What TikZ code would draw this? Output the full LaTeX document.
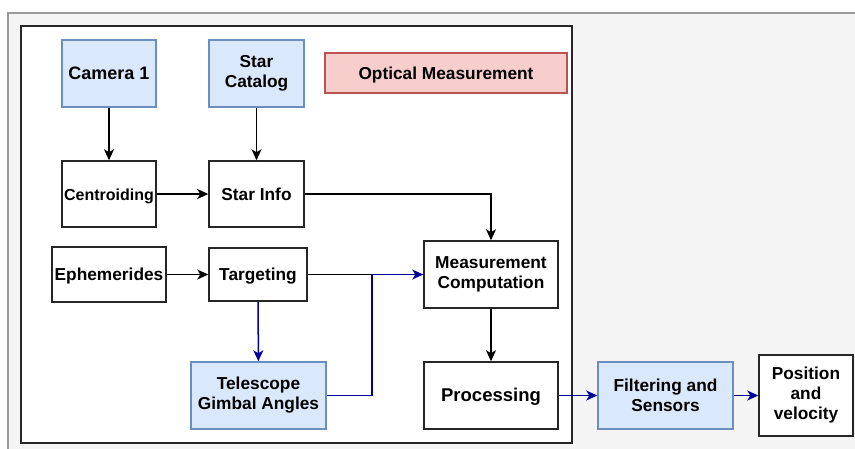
\documentclass[tikz,border=0pt]{standalone}
\usepackage{fontspec}
\setmainfont{Liberation Sans}
\usetikzlibrary{arrows.meta}
\definecolor{bluefill}{HTML}{DAE8FC}
\definecolor{bluedraw}{HTML}{6C8EBF}
\definecolor{redfill}{HTML}{F8CECC}
\definecolor{reddraw}{HTML}{B85450}
\definecolor{flowblue}{HTML}{000099}
\definecolor{panelgray}{HTML}{F4F4F4}
\definecolor{panelline}{HTML}{9A9A9A}

\begin{document}
\begin{tikzpicture}[x=1pt,y=-1pt,
  box/.style={draw=black!85, line width=1.5pt, fill=white, align=center,
    inner sep=0pt, font=\bfseries\fontsize{17.3}{20}\selectfont},
  srcbox/.style={box, draw=bluedraw, fill=bluefill},
  oneline/.style={text height=15.6pt, text depth=3.6pt},
  flow/.style={draw=black, line width=1.5pt,
    -{Stealth[length=11pt,width=10pt,inset=3pt]}},
  bflow/.style={flow, draw=flowblue},
  plain/.style={draw=black, line width=1.5pt}
]
\useasboundingbox (0,0) rectangle (855,448);

% background panel and the optical measurement group
\draw[panelline, fill=panelgray, line width=1.5pt] (8,13) rectangle (880,470);
\draw[black!85, fill=white, line width=1.5pt] (21,26) rectangle (572,443);

% nodes
\node[srcbox, oneline, minimum width=94pt, minimum height=67pt, font=\bfseries\fontsize{18}{20}\selectfont] (cam) at (109,73.5) {Camera 1};
\node[srcbox, minimum width=95pt, minimum height=67pt] (cat) at (256.5,73.5) {Star\\Catalog};
\node[box, oneline, draw=reddraw, fill=redfill, minimum width=242pt, minimum height=40pt] (opt) at (446,73) {Optical Measurement};
\node[box, oneline, minimum width=94pt, minimum height=66pt, font=\bfseries\fontsize{16}{20}\selectfont] (cen) at (109,194) {Centroiding};
\node[box, oneline, minimum width=95pt, minimum height=66pt] (info) at (256.5,194) {Star Info};
\node[box, oneline, minimum width=114pt, minimum height=55pt] (eph) at (109,274.5) {Ephemerides};
\node[box, oneline, minimum width=98pt, minimum height=53pt] (tgt) at (258,274.5) {Targeting};
\node[srcbox, minimum width=135pt, minimum height=67pt] (gim) at (258.5,395.5) {Telescope\\Gimbal Angles};
\node[box, minimum width=134pt, minimum height=67pt] (mc) at (491,274.5) {Measurement\\Computation};
\node[box, oneline, minimum width=134pt, minimum height=67pt, font=\bfseries\fontsize{18.5}{20}\selectfont] (proc) at (491,395.5) {Processing};
\node[srcbox, minimum width=135pt, minimum height=67pt] (filt) at (665.5,395.5) {Filtering and\\Sensors};
\node[box, minimum width=94pt, minimum height=81pt] (pos) at (806,395.5) {Position\\and\\velocity};

% connectors
\draw[flow] (cam) -- (cen);
\draw[flow] (cat) -- (info);
\draw[flow] (cen) -- (info);
\draw[flow] (info.east) -| (mc.north);
\draw[flow] (eph) -- (tgt);
\draw[plain] (tgt.east) -- (mc.west);
\draw[bflow] (tgt) -- (gim);
\draw[bflow] (gim.east) -- ++(45,0) |- (mc.west);
\draw[flow] (mc) -- (proc);
\draw[bflow] (proc) -- (filt);
\draw[bflow] (filt) -- (pos);
\end{tikzpicture}
\end{document}
